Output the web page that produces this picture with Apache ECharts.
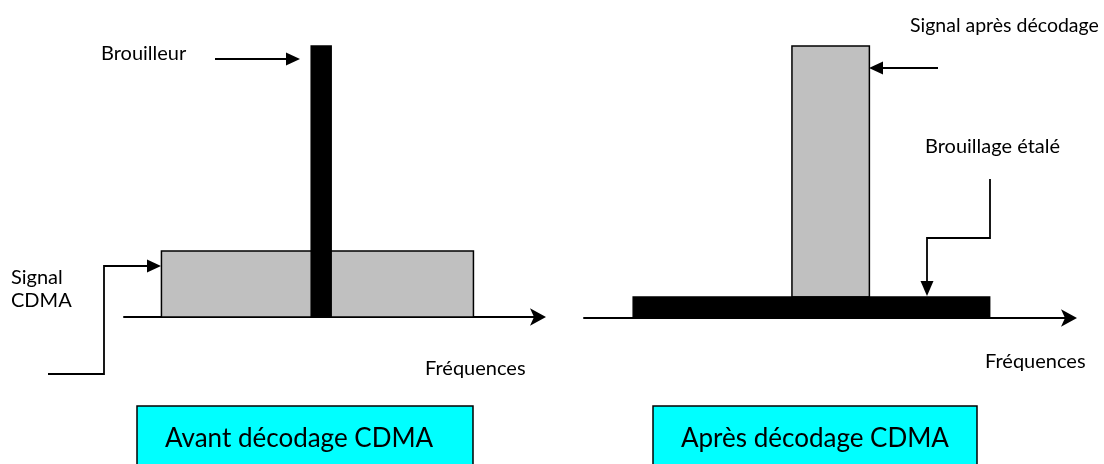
<!DOCTYPE html>
<html><head><meta charset="utf-8">
<script src="https://cdn.jsdelivr.net/npm/echarts@6/dist/echarts.min.js"></script>
<style>html,body{margin:0;padding:0;background:#fff}#c{width:1104px;height:464px}</style>
</head><body><div id="c"></div>
<script>
// Bands: [startFreq, endFreq, lowLevel, highLevel] on a 0-100 scale
const avantSignalCDMA = [[9, 84, 0, 24.4]];
const avantBrouilleur = [[45, 49.8, 0, 100]];
const apresSignal = [[42.7, 58.6, 7.7, 100]];
const apresBrouillage = [[10.1, 83.3, 0, 7.7]];
const panelTitles = ['Avant décodage CDMA', 'Après décodage CDMA'];
const axisName = 'Fréquences';

const FONT = 'Lato, "Open Sans", sans-serif';

function rectSeries(data, gridIdx, fill, stroke, z) {
  return {
    type: 'custom', xAxisIndex: gridIdx, yAxisIndex: gridIdx, z: z,
    data: data,
    renderItem: function (params, api) {
      const p0 = api.coord([api.value(0), api.value(3)]);
      const p1 = api.coord([api.value(1), api.value(2)]);
      return {
        type: 'rect',
        shape: { x: p0[0], y: p0[1], width: p1[0] - p0[0], height: p1[1] - p0[1] },
        style: { fill: fill, stroke: stroke, lineWidth: 1.5 }
      };
    }
  };
}

function xAx(gi) {
  return {
    type: 'value', gridIndex: gi, min: 0, max: 100,
    axisLine: { show: true, onZero: true, symbol: ['none', 'arrow'], symbolSize: [13, 16],
      symbolOffset: [0, 6],
      lineStyle: { color: '#000', width: 2 } },
    axisTick: { show: false }, axisLabel: { show: false }, splitLine: { show: false }
  };
}
function yAx(gi) {
  return { type: 'value', gridIndex: gi, min: 0, max: 100, show: false };
}

function arrowHead(tip, dir, len, half) {
  const [x, y] = tip;
  let pts;
  if (dir === 'right') pts = [[x, y], [x - len, y - half], [x - len, y + half]];
  if (dir === 'left') pts = [[x, y], [x + len, y - half], [x + len, y + half]];
  if (dir === 'down') pts = [[x, y], [x - half, y - len], [x + half, y - len]];
  return { type: 'polygon', shape: { points: pts }, style: { fill: '#000' }, z: 10 };
}
function pline(points) {
  return { type: 'polyline', shape: { points: points }, style: { stroke: '#000', lineWidth: 1.8, fill: null }, z: 10 };
}
function txt(x, y, s, size, align) {
  return { type: 'text', x: x, y: y, z: 10,
    style: { text: s, font: size + 'px ' + FONT, fill: '#000', textAlign: align || 'left', textVerticalAlign: 'middle' } };
}
function box(x, w, label) {
  return [
    { type: 'rect', shape: { x: x, y: 406, width: w, height: 70 }, style: { fill: '#00ffff', stroke: '#000', lineWidth: 1.5 }, z: 5 },
    txt(x + 28, 439, label, 26)
  ];
}

const chart = echarts.init(document.getElementById('c'), null, { renderer: 'canvas' });
chart.setOption({
  animation: false,
  backgroundColor: '#fff',
  grid: [
    { left: 124, width: 416, top: 46, bottom: 147 },
    { left: 584, width: 487, top: 46, bottom: 146 }
  ],
  xAxis: [xAx(0), xAx(1)],
  yAxis: [yAx(0), yAx(1)],
  series: [
    rectSeries(avantSignalCDMA, 0, '#c0c0c0', '#000', 2),
    rectSeries(avantBrouilleur, 0, '#000', '#000', 3),
    rectSeries(apresSignal, 1, '#c0c0c0', '#000', 2),
    rectSeries(apresBrouillage, 1, '#000', '#000', 3)
  ],
  graphic: [
    txt(101, 54, 'Brouilleur', 20),
    pline([[215, 59], [289, 59]]), arrowHead([300, 59], 'right', 14, 6.5),
    txt(11, 278, 'Signal', 20),
    txt(11, 301, 'CDMA', 20),
    pline([[48, 374], [104, 374], [104, 266], [149, 266]]), arrowHead([161, 266], 'right', 14, 6.5),
    txt(425, 369, axisName, 20),
    txt(910, 26, 'Signal après décodage', 19.5),
    pline([[938, 68], [881, 68]]), arrowHead([869, 68], 'left', 14, 6.5),
    txt(925, 147, 'Brouillage étalé', 20),
    pline([[990, 179], [990, 238], [927, 238], [927, 284]]), arrowHead([927, 296], 'down', 15, 6.5),
    txt(985, 362, axisName, 20),
    ...box(137, 336, panelTitles[0]),
    ...box(653, 324, panelTitles[1])
  ]
});
</script></body></html>
